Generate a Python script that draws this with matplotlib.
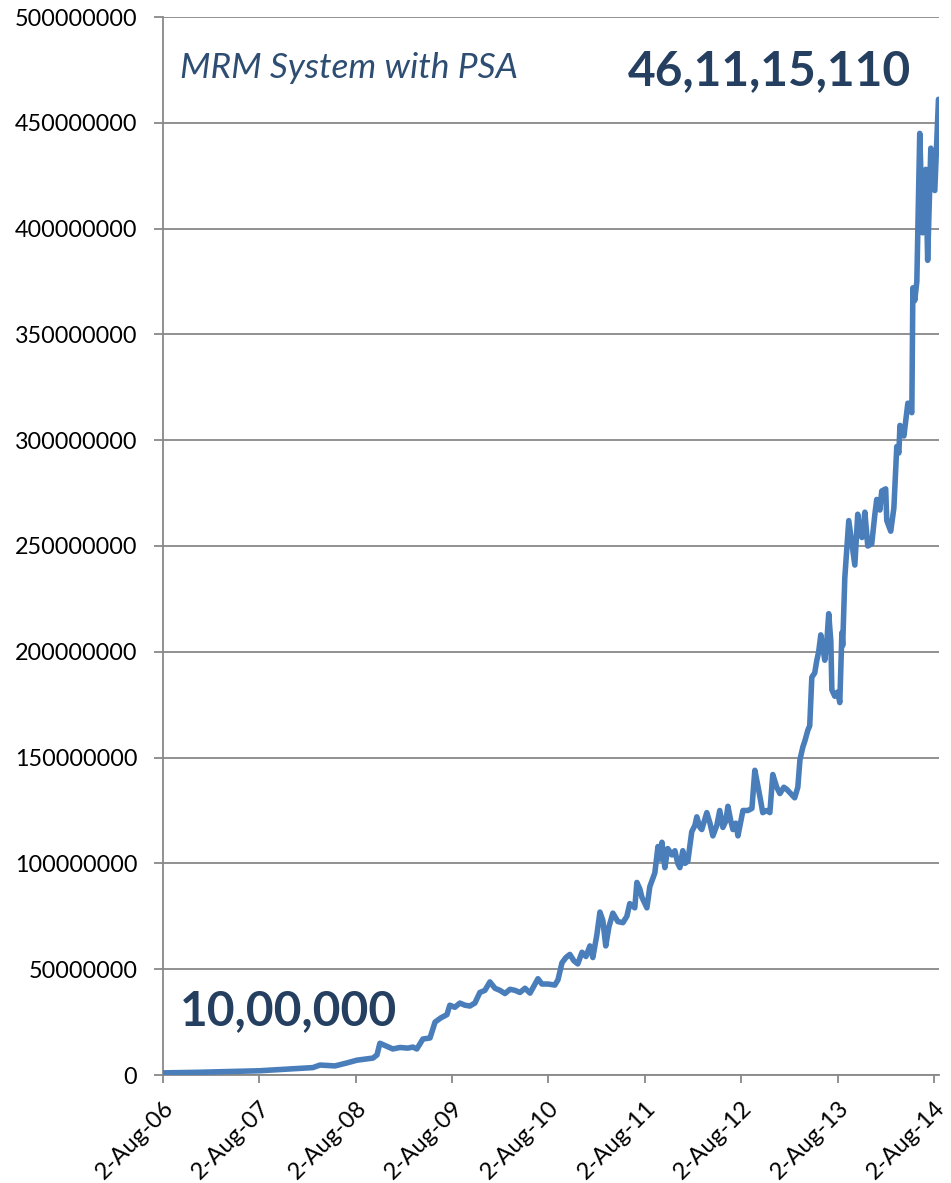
import matplotlib
matplotlib.use("Agg")
import matplotlib.pyplot as plt
import numpy as np
import pandas as pd

# ---- data (values in rupees) ----
dates = [
    "2006-08-02", "2006-12-20", "2007-04-01", "2007-08-02", "2007-10-08", "2008-01-03",
    "2008-02-21", "2008-03-19", "2008-05-15", "2008-06-29", "2008-08-06", "2008-09-05",
    "2008-10-06", "2008-10-21", "2008-11-01", "2008-11-28", "2008-12-20", "2009-01-16",
    "2009-02-15", "2009-03-06", "2009-03-21", "2009-04-13", "2009-05-10", "2009-05-29",
    "2009-06-20", "2009-07-13", "2009-07-24", "2009-08-12", "2009-08-31", "2009-09-19",
    "2009-10-08", "2009-10-27", "2009-11-15", "2009-12-04", "2009-12-23", "2010-01-11",
    "2010-01-30", "2010-02-18", "2010-03-09", "2010-03-28", "2010-04-16", "2010-05-05",
    "2010-05-24", "2010-06-12", "2010-06-23", "2010-07-08", "2010-07-31", "2010-08-26",
    "2010-09-07", "2010-09-22", "2010-10-07", "2010-10-22", "2010-11-06", "2010-11-21",
    "2010-12-07", "2010-12-22", "2011-01-06", "2011-01-17", "2011-02-01", "2011-02-13",
    "2011-02-24", "2011-03-07", "2011-03-19", "2011-04-03", "2011-04-22", "2011-05-11",
    "2011-05-26", "2011-06-06", "2011-06-25", "2011-07-03", "2011-07-14", "2011-07-22",
    "2011-08-10", "2011-08-21", "2011-09-09", "2011-09-21", "2011-09-28", "2011-10-06",
    "2011-10-17", "2011-10-28", "2011-11-13", "2011-11-24", "2011-12-05", "2011-12-13",
    "2011-12-24", "2012-01-01", "2012-01-12", "2012-01-27", "2012-02-08", "2012-02-15",
    "2012-02-27", "2012-03-05", "2012-03-17", "2012-03-24", "2012-04-05", "2012-04-16",
    "2012-05-01", "2012-05-12", "2012-05-24", "2012-06-04", "2012-06-12", "2012-06-23",
    "2012-07-01", "2012-07-12", "2012-07-20", "2012-07-31", "2012-08-08", "2012-08-27",
    "2012-09-11", "2012-09-22", "2012-10-03", "2012-10-15", "2012-10-22", "2012-11-06",
    "2012-11-18", "2012-11-29", "2012-12-14", "2012-12-26", "2013-01-10", "2013-01-21",
    "2013-02-05", "2013-02-20", "2013-03-04", "2013-03-12", "2013-03-23", "2013-03-31",
    "2013-04-11", "2013-04-18", "2013-04-26", "2013-05-07", "2013-05-15", "2013-05-22",
    "2013-05-30", "2013-06-07", "2013-06-14", "2013-06-22", "2013-06-29", "2013-07-07",
    "2013-07-11", "2013-07-22", "2013-08-02", "2013-08-10", "2013-08-18", "2013-08-21",
    "2013-08-29", "2013-09-13", "2013-09-25", "2013-10-06", "2013-10-17", "2013-10-25",
    "2013-11-02", "2013-11-13", "2013-11-24", "2013-12-09", "2013-12-21", "2013-12-28",
    "2014-01-09", "2014-01-16", "2014-01-31", "2014-02-04", "2014-02-19", "2014-03-03",
    "2014-03-14", "2014-03-22", "2014-03-26", "2014-04-10", "2014-04-25", "2014-05-10",
    "2014-05-14", "2014-05-21", "2014-05-29", "2014-06-09", "2014-06-20", "2014-07-02",
    "2014-07-09", "2014-07-21", "2014-08-05", "2014-08-19",
]
values_m = [
    1.0, 1.3, 1.6, 2.0, 2.5, 3.2,
    3.5, 4.7, 4.3, 5.7, 7.0, 7.5,
    8.0, 9.5, 15.0, 13.5, 12.3, 13.0,
    12.7, 13.2, 12.3, 17.0, 17.5, 25.0,
    27.0, 28.5, 33.0, 32.0, 34.0, 33.0,
    32.6, 34.0, 39.0, 40.0, 44.0, 41.0,
    40.0, 38.5, 40.5, 40.0, 39.0, 41.0,
    38.7, 43.0, 45.5, 43.0, 43.0, 42.5,
    45.0, 53.0, 55.5, 57.0, 54.0, 52.5,
    58.0, 56.0, 61.0, 55.5, 66.0, 77.0,
    73.0, 61.0, 70.0, 76.5, 72.5, 72.0,
    75.0, 81.0, 79.0, 91.0, 88.0, 84.0,
    79.0, 89.0, 95.5, 108.0, 102.0, 110.0,
    98.0, 107.0, 104.0, 106.0, 100.0, 98.0,
    106.0, 100.0, 101.0, 115.0, 118.0, 122.0,
    117.0, 116.0, 121.0, 124.0, 119.0, 113.0,
    118.0, 125.0, 117.0, 120.0, 127.0, 120.0,
    116.0, 119.0, 113.0, 120.0, 125.0, 125.0,
    126.0, 144.0, 137.0, 129.0, 124.0, 125.0,
    124.0, 142.0, 136.0, 133.0, 136.0, 135.0,
    133.0, 131.0, 136.0, 149.0, 155.0, 158.0,
    163.0, 165.0, 188.0, 190.0, 196.0, 200.0,
    208.0, 202.0, 196.0, 205.0, 218.0, 205.0,
    182.0, 179.0, 181.0, 176.0, 209.0, 203.0,
    235.0, 262.0, 251.0, 241.0, 265.0, 256.0,
    254.0, 266.0, 250.0, 251.0, 265.0, 272.0,
    267.0, 276.0, 277.0, 262.0, 257.0, 268.0,
    297.0, 294.0, 307.0, 302.0, 317.5, 313.0,
    372.0, 366.0, 375.0, 445.0, 398.0, 428.0,
    385.0, 438.0, 418.0, 461.1,
]
tick_dates = ["2006-08-02", "2007-08-02", "2008-08-02", "2009-08-02", "2010-08-02",
              "2011-08-02", "2012-08-02", "2013-08-02", "2014-08-02"]
tick_labels = ["2-Aug-06", "2-Aug-07", "2-Aug-08", "2-Aug-09", "2-Aug-10",
               "2-Aug-11", "2-Aug-12", "2-Aug-13", "2-Aug-14"]
y_ticks = list(range(0, 500000001, 50000000))
title_text = "MRM System with PSA"
end_label = "46,11,15,110"
start_label = "10,00,000"

x = pd.to_datetime(dates)
y = np.array(values_m) * 1e6

plt.rcParams['font.family'] = ['Lato', 'DejaVu Sans']

fig = plt.figure(figsize=(9.51, 11.83), dpi=100)
ax = fig.add_axes([163/951, 1-1075/1183, 776/951, 1058/1183])

ax.plot(x, y, color='#4A7EBB', linewidth=4.0, solid_joinstyle='round', solid_capstyle='round', zorder=3)

ax.set_ylim(0, 500000000)
ax.set_xlim(pd.Timestamp("2006-08-02"), pd.Timestamp("2014-08-21"))
ax.set_yticks(y_ticks)
ax.set_yticklabels([str(v) for v in y_ticks])
ax.set_xticks(pd.to_datetime(tick_dates))
ax.set_xticklabels(tick_labels, rotation=45, ha='right', va='top', rotation_mode='anchor')

grid_c = '#888888'
ax.yaxis.grid(True, color=grid_c, linewidth=1.3)
ax.set_axisbelow(True)
for s in ['top', 'right']:
    ax.spines[s].set_visible(False)
for s in ['left', 'bottom']:
    ax.spines[s].set_color(grid_c)
    ax.spines[s].set_linewidth(1.3)
ax.tick_params(axis='y', length=6.5, width=1.3, color=grid_c, pad=12, labelsize=16.8, labelcolor='black')
ax.tick_params(axis='x', length=6, width=1.3, color=grid_c, pad=10, labelsize=17, labelcolor='black')

navy = '#243F60'
ax.text(0.022, 0.942, title_text, transform=ax.transAxes, fontsize=25.5, style='italic',
        color='#2E4D72', ha='left', va='baseline')
ax.text(0.964, 0.936, end_label, transform=ax.transAxes, fontsize=34.5, fontweight='bold',
        color=navy, ha='right', va='baseline')
ax.text(0.022, 0.0473, start_label, transform=ax.transAxes, fontsize=34.5, fontweight='bold',
        color=navy, ha='left', va='baseline')

fig.savefig("out.png", dpi=100)
